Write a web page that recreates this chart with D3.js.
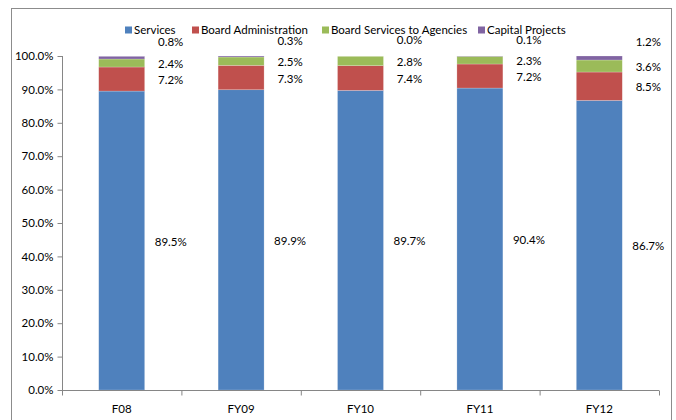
<!DOCTYPE html>
<html>
<head>
<meta charset="utf-8">
<script src="https://cdn.jsdelivr.net/npm/d3@7"></script>
<style>
  body { margin: 0; background: #fff; }
  svg text { font-family: Lato, "Liberation Sans", sans-serif; font-size: 11.5px; fill: #000; }
</style>
</head>
<body>
<svg id="chart" width="676" height="420"></svg>
<script>
// data
var years = ["F08", "FY09", "FY10", "FY11", "FY12"];
var seriesNames = ["Services", "Board Administration", "Board Services to Agencies", "Capital Projects"];
var services = [89.5, 89.9, 89.7, 90.4, 86.7];
var boardAdmin = [7.2, 7.3, 7.4, 7.2, 8.5];
var boardServices = [2.4, 2.5, 2.8, 2.3, 3.6];
var capital = [0.8, 0.3, 0.0, 0.1, 1.2];
var yTicks = [0, 0.1, 0.2, 0.3, 0.4, 0.5, 0.6, 0.7, 0.8, 0.9, 1.0];

var colors = ["#4f81bd", "#c0504d", "#9bbb59", "#8064a2"];

var svg = d3.select("#chart");
var width = 676, height = 420;
var margin = {top: 56, right: 17, bottom: 30, left: 62};

// table for d3.stack
var table = years.map(function(y, i) {
  return {year: y, s0: services[i], s1: boardAdmin[i], s2: boardServices[i], s3: capital[i]};
});
var stack = d3.stack().keys(["s0", "s1", "s2", "s3"]);
var layers = stack(table);

// chart border
svg.append("rect")
  .attr("x", 11.5).attr("y", 8.5)
  .attr("width", 660).attr("height", 430)
  .attr("fill", "none").attr("stroke", "#8c8c8c");

var x = d3.scaleBand()
  .domain(years)
  .range([margin.left, width - margin.right])
  .paddingInner(0.615)
  .paddingOuter(0.3075);

var y = d3.scaleLinear()
  .domain([0, 1])
  .range([height - margin.bottom, margin.top]);

// y axis
var yAxis = g => g
  .attr("transform", `translate(${margin.left + 0.5},0)`)
  .call(d3.axisLeft(y).tickValues(yTicks).tickFormat(d3.format(".1%")).tickSize(5).tickPadding(4))
  .call(g => g.select(".domain").attr("stroke", "#868686").attr("d", `M0,${y(0) + 0.5}V${y(1)}`))
  .call(g => g.selectAll(".tick line").attr("stroke", "#868686"));

svg.append("g").call(yAxis);

// bars
svg.append("g")
  .selectAll("g").data(layers).enter().append("g")
    .attr("fill", (d, i) => colors[i])
  .selectAll("rect").data(d => d).enter().append("rect")
    .attr("x", d => x(d.data.year))
    .attr("y", d => y(d[1] / 100))
    .attr("height", d => y(d[0] / 100) - y(d[1] / 100))
    .attr("width", x.bandwidth())
    .attr("stroke", "rgba(255,255,255,0.35)")
    .attr("stroke-width", 0.6);

// x axis
var step = x.step();
var xAxisG = svg.append("g").attr("transform", `translate(0,${y(0) + 0.5})`);
xAxisG.append("path")
  .attr("d", `M${margin.left},0H${width - margin.right}`)
  .attr("stroke", "#868686").attr("fill", "none");
xAxisG.selectAll("line").data(d3.range(years.length + 1)).enter().append("line")
  .attr("x1", i => margin.left + i * step + 0.5)
  .attr("x2", i => margin.left + i * step + 0.5)
  .attr("y1", 0).attr("y2", 5)
  .attr("stroke", "#868686");
xAxisG.selectAll("text").data(years).enter().append("text")
  .attr("x", d => x(d) + x.bandwidth() / 2)
  .attr("y", 19)
  .attr("dy", "0.32em")
  .attr("text-anchor", "middle")
  .text(d => d);

// value labels, to the right of each bar
var labelDx = x.bandwidth() / 2 + 49;
svg.append("g")
  .selectAll("g").data(layers).enter().append("g")
  .selectAll("text").data(d => d.map(function(v) { return {v: v, key: d.key, idx: d.index}; }))
  .enter().append("text")
    .attr("x", d => x(d.v.data.year) + labelDx)
    .attr("y", function(d) {
      var mid = y((d.v[0] + d.v[1]) / 200);
      return d.idx === 3 ? mid - 16 : mid + 1;
    })
    .attr("dy", "0.35em")
    .attr("text-anchor", "middle")
    .text(d => d3.format(".1f")(d.v.data[d.key]) + "%");

// legend
var legendX = [125, 192, 322, 478];
var legend = svg.append("g");
seriesNames.forEach(function(name, i) {
  legend.append("rect")
    .attr("x", legendX[i]).attr("y", 26.5)
    .attr("width", 7).attr("height", 7)
    .attr("fill", colors[i]);
  legend.append("text")
    .attr("x", legendX[i] + 9).attr("y", 30)
    .attr("dy", "0.35em")
    .text(name);
});
</script>
</body>
</html>
